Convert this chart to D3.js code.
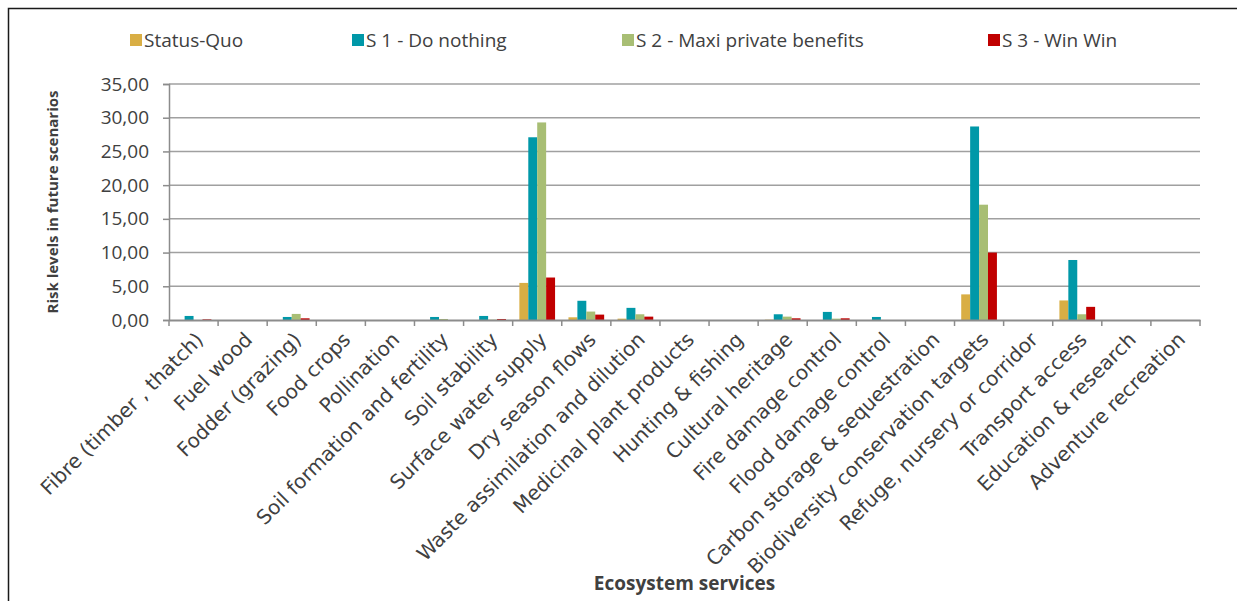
<!DOCTYPE html>
<html><head><meta charset="utf-8">
<script src="https://cdn.jsdelivr.net/npm/d3@7"></script>
<style>
body{margin:0;background:#fff;}
text{font-family:"Open Sans",sans-serif;}
</style></head>
<body><svg id="c" width="1237" height="601"></svg>
<script>
const categories = ["Fibre (timber , thatch)","Fuel wood","Fodder (grazing)","Food crops","Pollination","Soil formation and fertility","Soil stability","Surface water supply","Dry season flows","Waste assimilation and dilution","Medicinal plant products","Hunting & fishing","Cultural heritage","Fire damage control","Flood damage control","Carbon storage & sequestration","Biodiversity conservation targets","Refuge, nursery or corridor","Transport access","Education & research","Adventure recreation"];
const seriesNames = ["Status-Quo","S 1 - Do nothing","S 2 - Maxi private benefits","S 3 - Win Win"];
const statusQuo = [0,0,0,0,0,0,0,5.5,0.4,0.2,0,0,0.05,0,0,0,3.8,0,2.9,0,0];
const s1DoNothing = [0.6,0,0.45,0,0,0.45,0.6,27.1,2.85,1.8,0,0,0.85,1.2,0.45,0,28.7,0,8.9,0,0];
const s2MaxiPrivate = [0,0,0.9,0,0,0.15,0.05,29.3,1.25,0.85,0,0,0.5,0.2,0,0,17.1,0,0.85,0,0];
const s3WinWin = [0.1,0,0.25,0,0,0,0.15,6.3,0.8,0.5,0,0,0.25,0.25,0,0,10.0,0,1.95,0,0];
const yTicks = [0,5,10,15,20,25,30,35];
const colors = ["#D9AE44","#0098A8","#A8BE74","#C00000"];

const series = [statusQuo, s1DoNothing, s2MaxiPrivate, s3WinWin];
const svg = d3.select("#c");
const L = 169, R = 1200, T = 84, B = 320;

svg.append("rect").attr("x",8.5).attr("y",8.5).attr("width",1240).attr("height",620)
  .attr("fill","none").attr("stroke","#1a1a1a").attr("stroke-width",1.5);

const x = d3.scaleBand().domain(categories).range([L,R]).paddingInner(0).paddingOuter(0);
// group of 4 bars with 150% gap => bar = bandwidth/5.5, offset = 0.75 bar
const barW = x.bandwidth()/5.5;
const y = d3.scaleLinear().domain([0,35]).range([B,T]);

// gridlines
svg.append("g").selectAll("line").data(yTicks.filter(d=>d>0)).join("line")
  .attr("x1",L).attr("x2",R).attr("y1",d=>y(d)).attr("y2",d=>y(d))
  .attr("stroke","#a0a0a0").attr("stroke-width",1.5);

// y axis
const yAxis = d3.axisLeft(y).tickValues(yTicks).tickSize(6).tickPadding(14)
  .tickFormat(d=>d3.format(".2f")(d).replace(".",","));
const gy = svg.append("g").attr("transform",`translate(${L},0)`).call(yAxis);
gy.select(".domain").attr("stroke","#8c8c8c").attr("stroke-width",1.5);
gy.selectAll(".tick line").attr("stroke","#8c8c8c").attr("stroke-width",1.5);
gy.selectAll(".tick text").attr("fill","#404040").style("font-size","19px").style("font-family","Open Sans");

// bars
const gBars = svg.append("g");
series.forEach((vals,si)=>{
  gBars.selectAll(null).data(vals).join("rect")
    .attr("x",(d,i)=>x(categories[i]) + barW*0.75 + si*barW)
    .attr("width",barW)
    .attr("y",d=>y(d))
    .attr("height",d=>B - y(d))
    .attr("fill",colors[si]);
});

// x axis
const xAxis = d3.axisBottom(x).tickSize(0).tickFormat("");
const gx = svg.append("g").attr("transform",`translate(0,${B})`).call(xAxis);
gx.select(".domain").attr("stroke","#8c8c8c").attr("stroke-width",2);
const bounds = categories.map(c=>x(c)).concat([R]);
gx.selectAll(".bt").data(bounds).join("line").attr("class","bt")
  .attr("x1",d=>d).attr("x2",d=>d).attr("y1",0).attr("y2",6)
  .attr("stroke","#8c8c8c").attr("stroke-width",1.5);
// labels
svg.append("g").selectAll("text").data(categories).join("text")
  .attr("transform",d=>`translate(${x(d)+x.bandwidth()/2+1},${B+11}) rotate(-45)`)
  .attr("text-anchor","end").attr("dy","14")
  .attr("fill","#404040").style("font-size","20px").style("font-family","DejaVu Sans")
  .text(d=>d);

// axis titles
svg.append("text").attr("transform",`translate(58,${(T+B)/2}) rotate(-90)`)
  .attr("text-anchor","middle").attr("fill","#404040").style("font-size","15px").style("font-weight","bold")
  .text("Risk levels in future scenarios");
svg.append("text").attr("x",(L+R)/2).attr("y",590).attr("text-anchor","middle")
  .attr("fill","#404040").style("font-size","19px").style("font-weight","bold")
  .text("Ecosystem services");

// legend
const legX = [130,352,622,988];
const leg = svg.append("g").selectAll("g").data(seriesNames).join("g")
  .attr("transform",(d,i)=>`translate(${legX[i]},40)`);
leg.append("rect").attr("x",0).attr("y",-6).attr("width",12).attr("height",12).attr("fill",(d,i)=>colors[i]);
leg.append("text").attr("x",14).attr("y",0).attr("dy","0.35em").attr("fill","#404040").style("font-size","19px").text(d=>d);
</script></body></html>
